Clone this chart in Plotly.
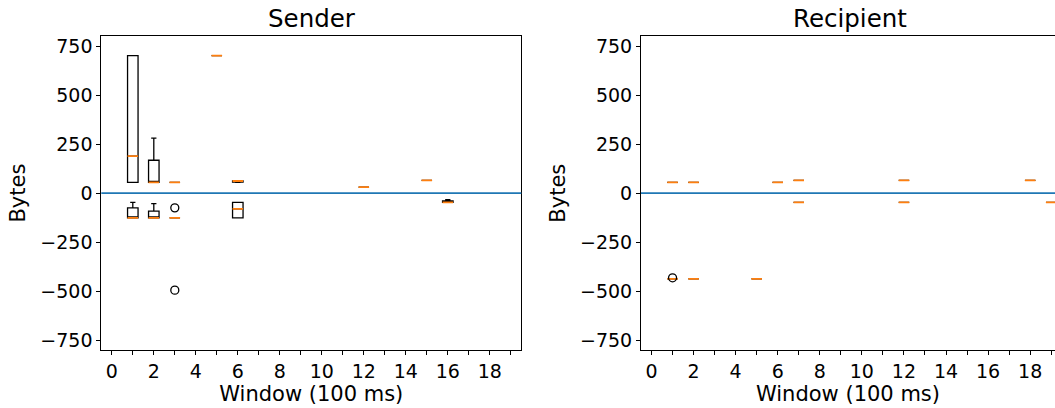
import plotly.graph_objects as go

# ---------------- data ----------------
# Sender, positive byte values per window
s_pos_x = [1, 2, 3, 5, 6, 12, 15]
s_pos_lo = [55, 55, 55, 702, 55, 31, 65]
s_pos_q1 = [55, 55, 55, 702, 57, 31, 65]
s_pos_med = [189, 55, 55, 702, 62, 31, 65]
s_pos_q3 = [702, 168, 55, 702, 63, 31, 65]
s_pos_hi = [702, 281, 55, 702, 63, 31, 65]

# Sender, negative byte values per window
s_neg_x = [1, 2, 3, 6, 16]
s_neg_lo = [-126, -126, -126, -126, -47]
s_neg_q1 = [-126, -126, -126, -126, -47]
s_neg_med = [-126, -126, -126, -80, -47]
s_neg_q3 = [-75, -92, -126, -47, -40]
s_neg_hi = [-47, -53, -126, -47, -33]

s_flier_x = [3, 3]
s_flier_y = [-75, -495]

# Recipient, positive
r_pos_x = [1, 2, 6, 7, 12, 18]
r_pos_val = [55, 55, 55, 65, 65, 65]
# Recipient, negative
r_neg_x = [1, 2, 5, 7, 12, 19]
r_neg_val = [-437, -437, -437, -47, -47, -47]

r_flier_x = [1]
r_flier_y = [-432]

x_ticks = list(range(20))
x_ticktext = [str(i) if i % 2 == 0 else "" for i in x_ticks]
y_ticks = [-750, -500, -250, 0, 250, 500, 750]

titles = ["Sender", "Recipient"]
x_title = "Window (100 ms)"
y_title = "Bytes"

# ---------------- style ----------------
FONT = "DejaVu Sans"
BOX_W = 0.5
EDGE = "#000000"
MED = "#ff7f0e"
ZERO = "#1f77b4"

fig = go.Figure()


def add_boxes(xs, lo, q1, med, q3, hi, xa, ya):
    fig.add_trace(go.Box(
        x=xs, lowerfence=lo, q1=q1, median=med, q3=q3, upperfence=hi,
        width=BOX_W, whiskerwidth=0.5, fillcolor="rgba(0,0,0,0)",
        line=dict(color=EDGE, width=1.3), boxpoints=False,
        xaxis=xa, yaxis=ya, showlegend=False, hoverinfo="skip"))
    fig.add_trace(go.Box(
        x=xs, lowerfence=med, q1=med, median=med, q3=med, upperfence=med,
        width=BOX_W, whiskerwidth=0, fillcolor="rgba(0,0,0,0)",
        line=dict(color=MED, width=1.8), boxpoints=False,
        xaxis=xa, yaxis=ya, showlegend=False, hoverinfo="skip"))


def add_fliers(xs, ys, xa, ya):
    fig.add_trace(go.Scatter(
        x=xs, y=ys, mode="markers",
        marker=dict(symbol="circle-open", size=8, color=EDGE,
                    line=dict(width=1.3, color=EDGE)),
        xaxis=xa, yaxis=ya, showlegend=False, hoverinfo="skip", cliponaxis=True))


add_boxes(s_pos_x, s_pos_lo, s_pos_q1, s_pos_med, s_pos_q3, s_pos_hi, "x", "y")
add_boxes(s_neg_x, s_neg_lo, s_neg_q1, s_neg_med, s_neg_q3, s_neg_hi, "x", "y")
add_fliers(s_flier_x, s_flier_y, "x", "y")

add_boxes(r_pos_x, r_pos_val, r_pos_val, r_pos_val, r_pos_val, r_pos_val, "x2", "y2")
add_boxes(r_neg_x, r_neg_val, r_neg_val, r_neg_val, r_neg_val, r_neg_val, "x2", "y2")
add_fliers(r_flier_x, r_flier_y, "x2", "y2")

W, H = 1055, 408
y_dom = [1 - 350.3 / H, 1 - 36 / H]

axis_common = dict(
    showgrid=False, zeroline=False, showline=True, linecolor="#000000", linewidth=1,
    ticks="outside", ticklen=4, tickwidth=1, tickcolor="#000000",
    tickfont=dict(family=FONT, size=19, color="#000000"), automargin=False,
)
title_font = dict(family=FONT, size=21, color="#000000")

fig.update_layout(
    width=W, height=H, margin=dict(l=0, r=0, t=0, b=0),
    paper_bgcolor="white", plot_bgcolor="white", boxmode="overlay",
    xaxis=dict(domain=[101.3 / W, 521.3 / W], range=[-0.5, 19.5], anchor="y",
               tickmode="array", tickvals=x_ticks, ticktext=x_ticktext, mirror=True,
               title=dict(text=x_title, font=title_font, standoff=0),
               **axis_common),
    yaxis=dict(domain=y_dom, range=[-802, 802], anchor="x",
               tickmode="array", tickvals=y_ticks, mirror=True,
               title=dict(text=y_title, font=title_font, standoff=8),
               **axis_common),
    xaxis2=dict(domain=[641 / W, 1.0], range=[-0.5, 19.18], anchor="y2",
                tickmode="array", tickvals=x_ticks, ticktext=x_ticktext, mirror=True,
                title=dict(text=x_title, font=title_font, standoff=0),
                **axis_common),
    yaxis2=dict(domain=y_dom, range=[-802, 802], anchor="x2",
                tickmode="array", tickvals=y_ticks, mirror=False,
                title=dict(text=y_title, font=title_font, standoff=8),
                **axis_common),
)

for xref in ["x", "x2"]:
    yref = "y" if xref == "x" else "y2"
    fig.add_shape(type="line", xref=f"{xref} domain", yref=yref, x0=0, x1=1, y0=0, y1=0,
                  line=dict(color=ZERO, width=1.8), layer="above")

fig.add_annotation(text=titles[0], xref="paper", yref="paper",
                   x=311.7 / W, y=1 - 18.5 / H, showarrow=False,
                   xanchor="center", yanchor="middle",
                   font=dict(family=FONT, size=24.5, color="#000000"))
fig.add_annotation(text=titles[1], xref="paper", yref="paper",
                   x=849.5 / W, y=1 - 18.5 / H, showarrow=False,
                   xanchor="center", yanchor="middle",
                   font=dict(family=FONT, size=24.5, color="#000000"))

fig.write_html("out.html", config={"displayModeBar": False},
               post_script="document.body.style.margin='0';")
